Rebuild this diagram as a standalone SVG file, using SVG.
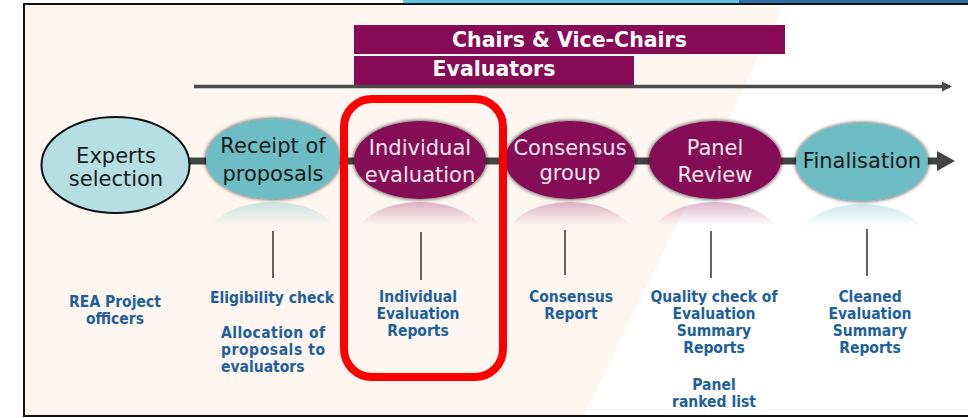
<svg xmlns="http://www.w3.org/2000/svg" width="968" height="418" viewBox="0 0 968 418">
<style>
.etxt{font-family:"DejaVu Sans","Noto Sans",sans-serif;font-size:21px;text-anchor:middle}
.dark{fill:#1a1a1a}
.light{fill:#f4e6f0}
.lbl{font-family:"DejaVu Sans Condensed","DejaVu Sans","Noto Sans",sans-serif;font-stretch:condensed;font-size:15.5px;font-weight:bold;fill:#215e9b;text-anchor:middle}
.bar{fill:#860a56}
.btxt{font-family:"DejaVu Sans","Noto Sans",sans-serif;font-size:20.5px;font-weight:bold;fill:#ffffff;text-anchor:middle}
.vline{stroke:#333;stroke-width:1.5}
.teal{fill:#6dbdc5}
.purple{fill:#850a56}
</style>
<defs>
<filter id="glow" x="-20%" y="-30%" width="140%" height="160%">
<feGaussianBlur in="SourceAlpha" stdDeviation="2" result="b"/>
<feFlood flood-color="#111" flood-opacity="0.9"/>
<feComposite in2="b" operator="in" result="s"/>
<feMerge><feMergeNode in="s"/><feMergeNode in="SourceGraphic"/></feMerge>
</filter>
<linearGradient id="rTeal" x1="0" y1="0" x2="0" y2="1">
<stop offset="0" stop-color="#6dbdc5" stop-opacity="0.35"/>
<stop offset="0.28" stop-color="#6dbdc5" stop-opacity="0"/>
</linearGradient>
<linearGradient id="rPurple" x1="0" y1="0" x2="0" y2="1">
<stop offset="0" stop-color="#a0306f" stop-opacity="0.35"/>
<stop offset="0.28" stop-color="#a0306f" stop-opacity="0"/>
</linearGradient>
<marker id="ahSmall" viewBox="0 0 10 10" refX="8" refY="5" markerWidth="3" markerHeight="3" orient="auto" markerUnits="strokeWidth">
<path d="M0,0 L10,5 L0,10 z" fill="#4a4a4a"/>
</marker>
</defs>

<!-- background -->
<rect x="0" y="0" width="968" height="418" fill="#ffffff"/>
<rect x="403" y="0" width="336" height="4" fill="#62c3ea"/>
<rect x="739" y="0" width="229" height="4" fill="#2d6ea5"/>
<polygon points="25,5 784,5 584,415 25,415" fill="#fdf6f1"/>
<rect x="24" y="4" width="960" height="412" fill="none" stroke="#111" stroke-width="2"/>

<!-- role bars -->
<g id="bar-chairs">
<rect class="bar" x="354" y="25" width="431" height="29"/>
<text class="btxt" x="569.5" y="47">Chairs &amp; Vice-Chairs</text>
</g>
<g id="bar-evaluators">
<rect class="bar" x="354" y="56" width="280" height="29"/>
<text class="btxt" x="494" y="76">Evaluators</text>
</g>

<!-- connectors -->
<g id="connectors">
<line x1="194" y1="86.5" x2="950" y2="86.5" stroke="#4a4a4a" stroke-width="3.5" marker-end="url(#ahSmall)"/>
<line x1="188" y1="161" x2="940" y2="161" stroke="#444" stroke-width="7"/>
<polygon points="937,151 955,161 937,171" fill="#444"/>
<line class="vline" x1="273" y1="231" x2="273" y2="278"/>
<line class="vline" x1="421" y1="232" x2="421" y2="280"/>
<line class="vline" x1="565" y1="230" x2="565" y2="275"/>
<line class="vline" x1="711" y1="231" x2="711" y2="278"/>
<line class="vline" x1="867" y1="229" x2="867" y2="276"/>
</g>

<!-- nodes -->
<g id="experts-selection">
<ellipse cx="115.5" cy="165" rx="74" ry="48" fill="#b6dfe3" stroke="#111" stroke-width="2"/>
<text class="etxt dark" x="116" y="163">Experts</text>
<text class="etxt dark" x="116" y="186">selection</text>
</g>
<g id="receipt-of-proposals">
<ellipse cx="273" cy="243" rx="68" ry="41" style="fill:url(#rTeal)"/>
<ellipse class="teal" cx="273" cy="159" rx="67" ry="40" filter="url(#glow)"/>
<text class="etxt dark" x="273" y="153">Receipt of</text>
<text class="etxt dark" x="273" y="181">proposals</text>
</g>
<g id="individual-evaluation">
<ellipse cx="420" cy="243" rx="67" ry="41" style="fill:url(#rPurple)"/>
<ellipse class="purple" cx="420" cy="160" rx="66" ry="39" filter="url(#glow)"/>
<text class="etxt light" x="420" y="155">Individual</text>
<text class="etxt light" x="420" y="182">evaluation</text>
</g>
<g id="consensus-group">
<ellipse cx="570" cy="243" rx="66" ry="41" style="fill:url(#rPurple)"/>
<ellipse class="purple" cx="570" cy="160" rx="65" ry="39" filter="url(#glow)"/>
<text class="etxt light" x="570" y="155">Consensus</text>
<text class="etxt light" x="570" y="180">group</text>
</g>
<g id="panel-review">
<ellipse cx="715" cy="243" rx="67" ry="41" style="fill:url(#rPurple)"/>
<ellipse class="purple" cx="715" cy="160" rx="66" ry="39" filter="url(#glow)"/>
<text class="etxt light" x="715" y="155">Panel</text>
<text class="etxt light" x="715" y="182">Review</text>
</g>
<g id="finalisation">
<ellipse cx="862" cy="245" rx="67" ry="41" style="fill:url(#rTeal)"/>
<ellipse class="teal" cx="862" cy="162" rx="66" ry="39" filter="url(#glow)"/>
<text class="etxt dark" x="862" y="168">Finalisation</text>
</g>

<!-- labels -->
<g id="label-rea">
<text class="lbl" x="115" y="307">REA Project</text>
<text class="lbl" x="115" y="324">officers</text>
</g>
<g id="label-eligibility">
<text class="lbl" x="272" y="303">Eligibility check</text>
<text class="lbl" x="221" y="338" style="text-anchor:start" textLength="104" lengthAdjust="spacing">Allocation of</text>
<text class="lbl" x="221" y="355" style="text-anchor:start" textLength="104" lengthAdjust="spacing">proposals to</text>
<text class="lbl" x="221" y="372" style="text-anchor:start">evaluators</text>
</g>
<g id="label-ier">
<text class="lbl" x="418" y="302">Individual</text>
<text class="lbl" x="418" y="319">Evaluation</text>
<text class="lbl" x="418" y="336">Reports</text>
</g>
<g id="label-consensus">
<text class="lbl" x="571" y="302">Consensus</text>
<text class="lbl" x="571" y="319">Report</text>
</g>
<g id="label-quality">
<text class="lbl" x="714" y="302">Quality check of</text>
<text class="lbl" x="714" y="319">Evaluation</text>
<text class="lbl" x="714" y="336">Summary</text>
<text class="lbl" x="714" y="353">Reports</text>
<text class="lbl" x="714" y="390">Panel</text>
<text class="lbl" x="714" y="407">ranked list</text>
</g>
<g id="label-cleaned">
<text class="lbl" x="870" y="302">Cleaned</text>
<text class="lbl" x="870" y="319">Evaluation</text>
<text class="lbl" x="870" y="336">Summary</text>
<text class="lbl" x="870" y="353">Reports</text>
</g>

<!-- highlight -->
<g id="highlight">
<rect x="344" y="99" width="159" height="278" rx="28" ry="28" fill="none" stroke="#ff0000" stroke-width="8"/>
</g>
</svg>
